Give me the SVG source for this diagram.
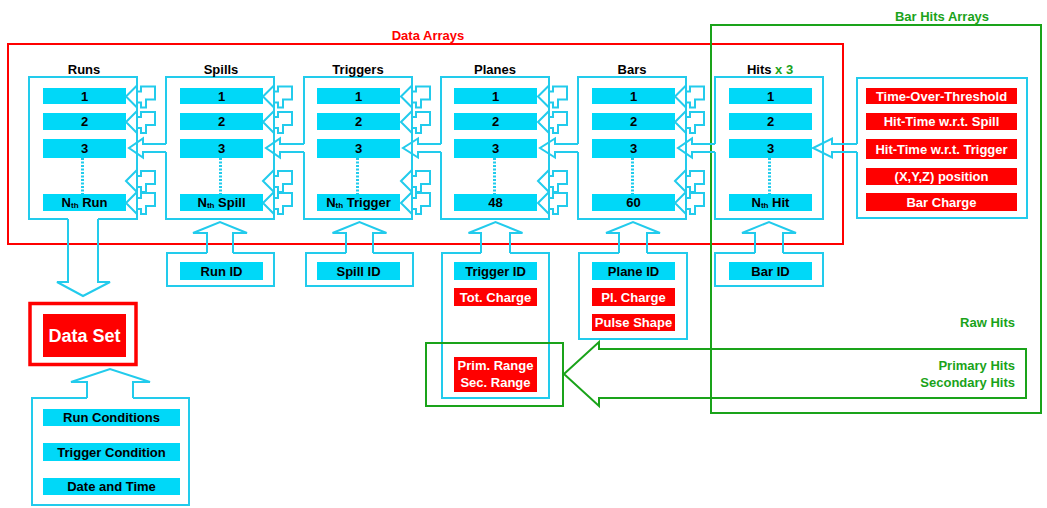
<svg xmlns="http://www.w3.org/2000/svg" xmlns:xlink="http://www.w3.org/1999/xlink" width="1047" height="508" viewBox="0 0 1047 508">
<style>
text{font-family:"Liberation Sans",Arial,sans-serif;font-weight:bold;font-size:13px;text-anchor:middle}
.bt{fill:#000}
.wt{fill:#fff}
.gt{fill:#1aa31a}
.rt{fill:#f00}
.bar{fill:#00d8f8}
.rbar{fill:#f00}
.ol{fill:none;stroke:#22cbec;stroke-width:2}
.dot{stroke:#22cbec;stroke-width:3;stroke-dasharray:2 1.5}
.g{fill:none;stroke:#1aa31a;stroke-width:2}
.r{fill:none;stroke:#f00;stroke-width:2}
.sub{font-size:8px}
</style>
<defs>
<path id="sa" d="M-11,0 L0,-11 V-5 H4 V-10 H18 V3 H9 V11 H4 V6 H0 V11 Z" fill="none" stroke="#22cbec" stroke-width="2"/>
</defs>
<rect width="1047" height="508" fill="#fff"/>

<g id="data-arrays">
<rect class="r" x="8" y="44" width="835" height="200"/>
<text class="rt" x="428" y="40">Data Arrays</text>
</g>
<g id="bar-hits-arrays">
<rect class="g" x="711" y="25" width="330" height="388"/>
<text class="gt" x="942" y="21">Bar Hits Arrays</text>
<text class="gt" x="1015" y="327" style="text-anchor:end">Raw Hits</text>
<text class="gt" x="1015" y="370" style="text-anchor:end">Primary Hits</text>
<text class="gt" x="1015" y="387" style="text-anchor:end">Secondary Hits</text>
</g>

<g id="runs">
<path class="ol" d="M68,219 H29 V77 H137 V219 H98"/>
<text class="bt" x="84" y="74">Runs</text>
<rect class="bar" x="43" y="88" width="83" height="16"/><text class="bt" x="84.5" y="100.5">1</text>
<rect class="bar" x="43" y="113" width="83" height="17"/><text class="bt" x="84.5" y="126">2</text>
<rect class="bar" x="43" y="139" width="83" height="19"/><text class="bt" x="84.5" y="153">3</text>
<line class="dot" x1="82.5" y1="158" x2="82.5" y2="194"/>
<rect class="bar" x="43" y="194" width="83" height="17"/><text class="bt" x="84.5" y="207">N<tspan class="sub" dy="1">th</tspan><tspan dy="-1"> Run</tspan></text>
</g>

<g id="spills">
<path class="ol" d="M166,144 V77 H274 V219 H166 V152"/>
<text class="bt" x="221" y="74">Spills</text>
<rect class="bar" x="180" y="88" width="83" height="16"/><text class="bt" x="221.5" y="100.5">1</text>
<rect class="bar" x="180" y="113" width="83" height="17"/><text class="bt" x="221.5" y="126">2</text>
<rect class="bar" x="180" y="139" width="83" height="19"/><text class="bt" x="221.5" y="153">3</text>
<line class="dot" x1="220.5" y1="158" x2="220.5" y2="194"/>
<rect class="bar" x="180" y="194" width="83" height="17"/><text class="bt" x="221.5" y="207">N<tspan class="sub" dy="1">th</tspan><tspan dy="-1"> Spill</tspan></text>
</g>

<g id="triggers">
<path class="ol" d="M304,144 V77 H412 V219 H304 V152"/>
<text class="bt" x="358" y="74">Triggers</text>
<rect class="bar" x="317" y="88" width="83" height="16"/><text class="bt" x="358.5" y="100.5">1</text>
<rect class="bar" x="317" y="113" width="83" height="17"/><text class="bt" x="358.5" y="126">2</text>
<rect class="bar" x="317" y="139" width="83" height="19"/><text class="bt" x="358.5" y="153">3</text>
<line class="dot" x1="357.5" y1="158" x2="357.5" y2="194"/>
<rect class="bar" x="317" y="194" width="83" height="17"/><text class="bt" x="358.5" y="207">N<tspan class="sub" dy="1">th</tspan><tspan dy="-1"> Trigger</tspan></text>
</g>

<g id="planes">
<path class="ol" d="M441,144 V77 H549 V219 H441 V152"/>
<text class="bt" x="495" y="74">Planes</text>
<rect class="bar" x="454" y="88" width="83" height="16"/><text class="bt" x="495.5" y="100.5">1</text>
<rect class="bar" x="454" y="113" width="83" height="17"/><text class="bt" x="495.5" y="126">2</text>
<rect class="bar" x="454" y="139" width="83" height="19"/><text class="bt" x="495.5" y="153">3</text>
<line class="dot" x1="494.5" y1="158" x2="494.5" y2="194"/>
<rect class="bar" x="454" y="194" width="83" height="17"/><text class="bt" x="495.5" y="207">48</text>
</g>

<g id="bars">
<path class="ol" d="M578,144 V77 H686 V219 H578 V152"/>
<text class="bt" x="632" y="74">Bars</text>
<rect class="bar" x="592" y="88" width="83" height="16"/><text class="bt" x="633.5" y="100.5">1</text>
<rect class="bar" x="592" y="113" width="83" height="17"/><text class="bt" x="633.5" y="126">2</text>
<rect class="bar" x="592" y="139" width="83" height="19"/><text class="bt" x="633.5" y="153">3</text>
<line class="dot" x1="632.5" y1="158" x2="632.5" y2="194"/>
<rect class="bar" x="592" y="194" width="83" height="17"/><text class="bt" x="633.5" y="207">60</text>
</g>

<g id="hits">
<path class="ol" d="M715,144 V77 H823 V219 H715 V152"/>
<text class="bt" x="770" y="74">Hits <tspan class="gt">x 3</tspan></text>
<rect class="bar" x="729" y="88" width="83" height="16"/><text class="bt" x="770.5" y="100.5">1</text>
<rect class="bar" x="729" y="113" width="83" height="17"/><text class="bt" x="770.5" y="126">2</text>
<rect class="bar" x="729" y="139" width="83" height="19"/><text class="bt" x="770.5" y="153">3</text>
<line class="dot" x1="769.5" y1="158" x2="769.5" y2="194"/>
<rect class="bar" x="729" y="194" width="83" height="17"/><text class="bt" x="770.5" y="207">N<tspan class="sub" dy="1">th</tspan><tspan dy="-1"> Hit</tspan></text>
</g>

<g id="hit-attributes">
<path class="ol" d="M857,144 V78 H1027 V218 H857 V152"/>
<rect class="rbar" x="866" y="88" width="151" height="16"/><text class="wt" x="941.5" y="100.5">Time-Over-Threshold</text>
<rect class="rbar" x="866" y="113" width="151" height="17"/><text class="wt" x="941.5" y="126">Hit-Time w.r.t. Spill</text>
<rect class="rbar" x="866" y="139" width="151" height="20"/><text class="wt" x="941.5" y="153.5">Hit-Time w.r.t. Trigger</text>
<rect class="rbar" x="866" y="168" width="151" height="17"/><text class="wt" x="941.5" y="181">(X,Y,Z) position</text>
<rect class="rbar" x="866" y="193" width="151" height="18"/><text class="wt" x="941.5" y="206.5">Bar Charge</text>
</g>

<g id="run-id">
<path class="ol" d="M207,253 H167 V286 H274 V253 H233"/>
<rect class="bar" x="180" y="262" width="83" height="18"/><text class="bt" x="221.5" y="275.5">Run ID</text>
</g>
<g id="spill-id">
<path class="ol" d="M346,253 H306 V286 H413 V253 H373"/>
<rect class="bar" x="317" y="262" width="83" height="18"/><text class="bt" x="358.5" y="275.5">Spill ID</text>
</g>
<g id="trigger-id">
<path class="ol" d="M481,253 H442 V398 H549 V253 H510"/>
<rect class="bar" x="454" y="262" width="83" height="18"/><text class="bt" x="495.5" y="275.5">Trigger ID</text>
<rect class="rbar" x="454" y="288" width="83" height="18"/><text class="wt" x="495.5" y="301.5">Tot. Charge</text>
<rect class="rbar" x="454" y="357" width="83" height="35"/>
<text class="wt" x="495.5" y="369.5">Prim. Range</text>
<text class="wt" x="495.5" y="387">Sec. Range</text>
</g>
<g id="range-box">
<rect class="g" x="426" y="343" width="137" height="63"/>
</g>
<g id="plane-id">
<path class="ol" d="M619,253 H579 V339 H687 V253 H647"/>
<rect class="bar" x="592" y="262" width="83" height="18"/><text class="bt" x="633.5" y="275.5">Plane ID</text>
<rect class="rbar" x="592" y="288" width="83" height="18"/><text class="wt" x="633.5" y="301.5">Pl. Charge</text>
<rect class="rbar" x="592" y="314" width="83" height="17"/><text class="wt" x="633.5" y="327">Pulse Shape</text>
</g>
<g id="bar-id">
<path class="ol" d="M755,253 H715 V286 H823 V253 H783"/>
<rect class="bar" x="729" y="262" width="83" height="18"/><text class="bt" x="770.5" y="275.5">Bar ID</text>
</g>

<g id="data-set">
<rect x="30" y="303.5" width="106" height="61" fill="none" stroke="#f00" stroke-width="3.5"/>
<rect class="rbar" x="43" y="314" width="83" height="43"/>
<text class="wt" x="84.5" y="342" style="font-size:18px">Data Set</text>
</g>
<g id="conditions">
<path class="ol" d="M87,398 H32 V505 H189 V398 H133"/>
<rect class="bar" x="43" y="409" width="137" height="17"/><text class="bt" x="111.5" y="422">Run Conditions</text>
<rect class="bar" x="43" y="443" width="137" height="18"/><text class="bt" x="111.5" y="456.5">Trigger Condition</text>
<rect class="bar" x="43" y="478" width="137" height="17"/><text class="bt" x="111.5" y="491">Date and Time</text>
</g>

<g id="connectors">
<path class="ol" d="M68,219 V282 H57 L83,296 L110,282 H98 V219"/>
<path class="ol" d="M166,144 H143 V138.5 L129,148 L143,157.5 V152 H166"/>
<path class="ol" d="M304,144 H280 V138.5 L266,148 L280,157.5 V152 H304"/>
<path class="ol" d="M441,144 H418 V138.5 L403,148 L418,157.5 V152 H441"/>
<path class="ol" d="M578,144 H555 V138.5 L540,148 L555,157.5 V152 H578"/>
<path class="ol" d="M715,144 H692 V138.5 L678,148 L692,157.5 V152 H715"/>
<path class="ol" d="M857,144 H832 V138.5 L813,148 L832,157.5 V152 H857"/>
<path class="ol" d="M207,253 V233 H193 L220,222 L247,233 H233 V253"/>
<path class="ol" d="M346,253 V233 H332.5 L359.5,222 L386.5,233 H373 V253"/>
<path class="ol" d="M481,253 V233 H468.5 L495.5,222 L522.5,233 H510 V253"/>
<path class="ol" d="M619,253 V233 H606 L633,222 L660,233 H647 V253"/>
<path class="ol" d="M755,253 V233 H742 L769,222 L796,233 H783 V253"/>
<path class="ol" d="M87,398 V382 H71 L110,369 L150,382 H133 V398"/>
<path class="g" d="M564,374 L599,342 V349 H1026 V398 H599 V406 Z"/>
<use xlink:href="#sa" x="137" y="96.5"/><use xlink:href="#sa" x="137" y="122"/><use xlink:href="#sa" x="137" y="181"/><use xlink:href="#sa" x="137" y="203"/>
<use xlink:href="#sa" x="274" y="96.5"/><use xlink:href="#sa" x="274" y="122"/><use xlink:href="#sa" x="274" y="181"/><use xlink:href="#sa" x="274" y="203"/>
<use xlink:href="#sa" x="412" y="96.5"/><use xlink:href="#sa" x="412" y="122"/><use xlink:href="#sa" x="412" y="181"/><use xlink:href="#sa" x="412" y="203"/>
<use xlink:href="#sa" x="549" y="96.5"/><use xlink:href="#sa" x="549" y="122"/><use xlink:href="#sa" x="549" y="181"/><use xlink:href="#sa" x="549" y="203"/>
<use xlink:href="#sa" x="686" y="96.5"/><use xlink:href="#sa" x="686" y="122"/><use xlink:href="#sa" x="686" y="181"/><use xlink:href="#sa" x="686" y="203"/>
</g>
</svg>
